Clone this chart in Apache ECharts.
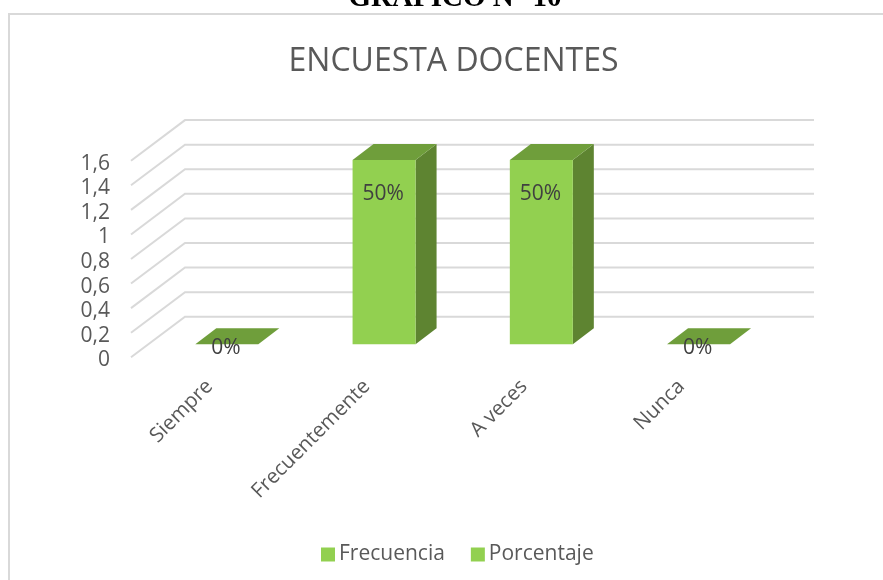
<!DOCTYPE html>
<html>
<head>
<meta charset="utf-8">
<title>Encuesta docentes</title>
<script src="https://cdn.jsdelivr.net/npm/echarts@6/dist/echarts.min.js"></script>
<style>
  html, body { margin: 0; padding: 0; background: #fff; }
  #chart { width: 883px; height: 580px; }
</style>
</head>
<body>
<div id="chart"></div>
<script>
var categories = ['Siempre', 'Frecuentemente', 'A veces', 'Nunca'];
var frecuencia = [0, 1.5, 1.5, 0];
var porcentaje = [0, 50, 50, 0];
var yTicks = [0, 0.2, 0.4, 0.6, 0.8, 1, 1.2, 1.4, 1.6];

var FONT = '"Open Sans"';
var FACE = '#92d050', TOP = '#6f9e3b', SIDE = '#5e8431';
// fake 3d: how far the floor and the bars are pushed back, in px
var WALL = { dx: 54, dy: -40.6 };
var BAR = { dx: 17.2, dy: -13, depthX: 21, depthY: -16, width: 63 };

function gridWall(params, api) {
  var rect = params.coordSys;
  var y = api.coord([0, api.value(0)])[1];
  return {
    type: 'polyline',
    silent: true,
    shape: { points: [
      [rect.x, y],
      [rect.x + WALL.dx, y + WALL.dy],
      [rect.x + rect.width + WALL.dx, y + WALL.dy]
    ] },
    style: { fill: 'none', stroke: '#d9d9d9', lineWidth: 2 }
  };
}

function bar3d(params, api) {
  var base = api.coord([api.value(0), 0]);
  var top = api.coord([api.value(0), api.value(1)]);
  var x0 = base[0] + BAR.dx - BAR.width / 2;
  var x1 = x0 + BAR.width;
  var yb = base[1] + BAR.dy;
  var yt = top[1] + BAR.dy;
  var dx = BAR.depthX, dy = BAR.depthY;
  var kids = [];
  if (yb - yt > 0.5) {
    kids.push({ type: 'polygon', shape: { points: [[x1, yt], [x1 + dx, yt + dy], [x1 + dx, yb + dy], [x1, yb]] }, style: { fill: SIDE } });
    kids.push({ type: 'rect', shape: { x: x0, y: yt, width: BAR.width, height: yb - yt }, style: { fill: FACE } });
  }
  kids.push({ type: 'polygon', shape: { points: [[x0, yt], [x0 + dx, yt + dy], [x1 + dx, yt + dy], [x1, yt]] }, style: { fill: TOP } });
  return { type: 'group', children: kids };
}

function pctLabel(params, api) {
  var v = api.value(1);
  var p = api.coord([api.value(0), v]);
  return {
    type: 'text',
    style: {
      x: p[0] + BAR.dx - 1,
      y: p[1] + BAR.dy + (v > 0 ? 34 : 4),
      text: api.value(2) + '%',
      fill: '#404040',
      font: '21px ' + FONT,
      align: 'center',
      verticalAlign: 'middle'
    }
  };
}

var chart = echarts.init(document.getElementById('chart'), null, { renderer: 'canvas' });
chart.setOption({
  animation: false,
  backgroundColor: '#fff',
  title: {
    text: 'ENCUESTA DOCENTES',
    left: 448.5,
    top: 41,
    textAlign: 'center',
    textStyle: { color: '#595959', fontFamily: FONT, fontWeight: 'normal', fontSize: 32 }
  },
  legend: {
    data: [
      { name: 'Frecuencia', itemStyle: { color: FACE } },
      { name: 'Porcentaje', itemStyle: { color: FACE } }
    ],
    left: 316,
    top: 539,
    icon: 'rect',
    itemWidth: 14,
    itemHeight: 14,
    itemGap: 26,
    textStyle: { color: '#595959', fontFamily: FONT, fontSize: 21, padding: [0, 0, 0, -1] }
  },
  grid: { left: 131, right: 123, top: 160.7, height: 196.6 },
  xAxis: {
    type: 'category',
    data: categories,
    axisLine: { show: false },
    axisTick: { show: false },
    axisLabel: { rotate: 45, interval: 0, margin: 26, color: '#595959', fontFamily: FONT, fontSize: 20.5 }
  },
  yAxis: {
    type: 'value',
    min: 0,
    max: 1.6,
    interval: 0.2,
    splitLine: { show: false },
    axisLine: { show: false },
    axisTick: { show: false },
    axisLabel: {
      margin: 21,
      color: '#595959',
      fontFamily: FONT,
      fontSize: 21,
      // labels sit a little under their tick in the original
      verticalAlign: 'top',
      lineHeight: 6,
      formatter: function (v) { return String(v).replace('.', ','); }
    }
  },
  series: [
    { type: 'custom', name: 'grid', z: 1, clip: false, silent: true, renderItem: gridWall, encode: { y: 0 }, data: yTicks.map(function (t) { return [t]; }) },
    { type: 'custom', name: 'Frecuencia', z: 2, clip: false, renderItem: bar3d, itemStyle: { color: FACE }, encode: { x: 0, y: 1 },
      data: frecuencia.map(function (v, i) { return [i, v]; }) },
    { type: 'custom', name: 'Porcentaje', z: 3, clip: false, renderItem: pctLabel, itemStyle: { color: FACE }, encode: { x: 0, y: 1 },
      data: porcentaje.map(function (p, i) { return [i, frecuencia[i], p]; }) }
  ],
  graphic: [
    { type: 'rect', z: 0, silent: true, shape: { x: 9, y: 14, width: 880, height: 570 }, style: { fill: 'none', stroke: '#d9d9d9', lineWidth: 2 } },
    { type: 'text', z: 5, silent: true, style: { x: 455, y: 13.5, text: 'GRÁFICO N° 10', fill: '#000', font: 'bold 29px "Liberation Serif"', align: 'center', verticalAlign: 'bottom' } }
  ]
});
</script>
</body>
</html>
